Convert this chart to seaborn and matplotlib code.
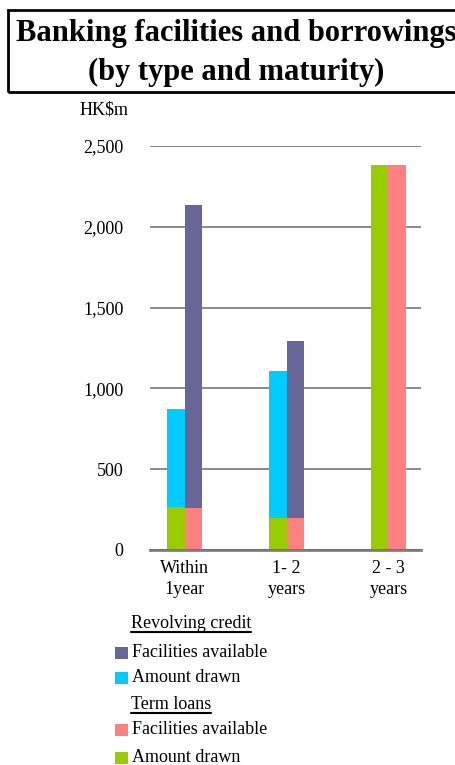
import matplotlib
matplotlib.use("Agg")
import matplotlib.pyplot as plt
import seaborn as sns
import pandas as pd
from matplotlib.patches import Rectangle
from matplotlib.lines import Line2D

# ---- data ----
categories = ["Within\n1year", "1- 2\nyears", "2 - 3\nyears"]
term_drawn = [265, 195, 2382]
term_available = [257, 195, 2382]
revolving_drawn = [605, 910, 0]
revolving_available = [1876, 1097, 0]
yticks = [0, 500, 1000, 1500, 2000, 2500]
ytick_labels = ["0", "500", "1,000", "1,500", "2,000", "2,500"]

c_purple = "#666699"
c_cyan = "#00CCFF"
c_salmon = "#FF8080"
c_green = "#99CC00"

sns.set_theme(style="white")
plt.rcParams["font.family"] = ["Liberation Serif", "DejaVu Serif"]
plt.rcParams["text.color"] = "black"
plt.rcParams["xtick.color"] = "black"
plt.rcParams["ytick.color"] = "black"

W, H = 456, 765
fig = plt.figure(figsize=(W / 100, H / 100), dpi=100)
ax = fig.add_axes([150 / W, 1 - 550 / H, (421 - 150) / W, (550 - 146) / H])

tot = pd.DataFrame({
    "cat": categories * 2,
    "kind": ["drawn"] * 3 + ["available"] * 3,
    "val": [a + b for a, b in zip(term_drawn, revolving_drawn)]
    + [a + b for a, b in zip(term_available, revolving_available)],
})
low = pd.DataFrame({
    "cat": categories * 2,
    "kind": ["drawn"] * 3 + ["available"] * 3,
    "val": term_drawn + term_available,
})
order = categories
hue_order = ["drawn", "available"]
sns.barplot(data=tot, x="cat", y="val", hue="kind", order=order, hue_order=hue_order,
            palette={"drawn": c_cyan, "available": c_purple}, width=0.34, gap=0,
            saturation=1, ax=ax, legend=False, zorder=2)
sns.barplot(data=low, x="cat", y="val", hue="kind", order=order, hue_order=hue_order,
            palette={"drawn": c_green, "available": c_salmon}, width=0.34, gap=0,
            saturation=1, ax=ax, legend=False, zorder=2)
for p in ax.patches:
    p.set_linewidth(0)

ax.set_xlim(-0.34, 2.32)
ax.set_ylim(0, 2500)
ax.set_yticks(yticks)
ax.set_yticklabels(ytick_labels)
ax.set_xlabel("")
ax.set_ylabel("")
ax.yaxis.grid(True, color="#808080", linewidth=1.3, zorder=0)
ax.set_axisbelow(True)
for s in ["left", "right", "top"]:
    ax.spines[s].set_visible(False)
ax.spines["bottom"].set_color("#606060")
ax.spines["bottom"].set_linewidth(2)
ax.spines["bottom"].set_alpha(0.8)
ax.spines["bottom"].set_zorder(5)
ax.tick_params(axis="both", length=0, labelsize=13, colors="black")
ax.tick_params(axis="y", pad=19)
ax.tick_params(axis="x", pad=7)
for lbl in ax.get_xticklabels():
    lbl.set_linespacing(1.35)

# title box
fig.patches.append(Rectangle((8 / W, 1 - 92 / H), (W + 10) / W, 82 / H,
                             transform=fig.transFigure, fill=False,
                             edgecolor="black", linewidth=2))
fig.text(236 / W, 1 - 33 / H, "Banking facilities and borrowings", ha="center",
         va="center", fontsize=22, fontweight="bold")
fig.text(236 / W, 1 - 72 / H, "(by type and maturity)", ha="center",
         va="center", fontsize=22, fontweight="bold")
fig.text(104 / W, 1 - 110 / H, "HK$m", ha="center", va="center", fontsize=13)

# legend (manual)
def heading(y, text):
    return fig.text(131 / W, 1 - y / H, text, ha="left", va="baseline", fontsize=13)

def item(y_top, color, text):
    fig.patches.append(Rectangle((115 / W, 1 - (y_top + 12) / H), 13 / W, 12 / H,
                                 transform=fig.transFigure, facecolor=color,
                                 edgecolor="none"))
    fig.text(132 / W, 1 - (y_top + 10) / H, text, ha="left", va="baseline", fontsize=13)

t1 = heading(628, "Revolving credit")
item(647, c_purple, "Facilities available")
item(672, c_cyan, "Amount drawn")
t2 = heading(709, "Term loans")
item(724, c_salmon, "Facilities available")
item(752, c_green, "Amount drawn")

fig.canvas.draw()
r = fig.canvas.get_renderer()
for t, y in [(t1, 632), (t2, 713)]:
    bb = t.get_window_extent(r)
    fig.lines.append(Line2D([bb.x0 / W, bb.x1 / W], [1 - y / H, 1 - y / H],
                            transform=fig.transFigure, color="black", linewidth=1.5))

fig.savefig("out.png", dpi=100)
